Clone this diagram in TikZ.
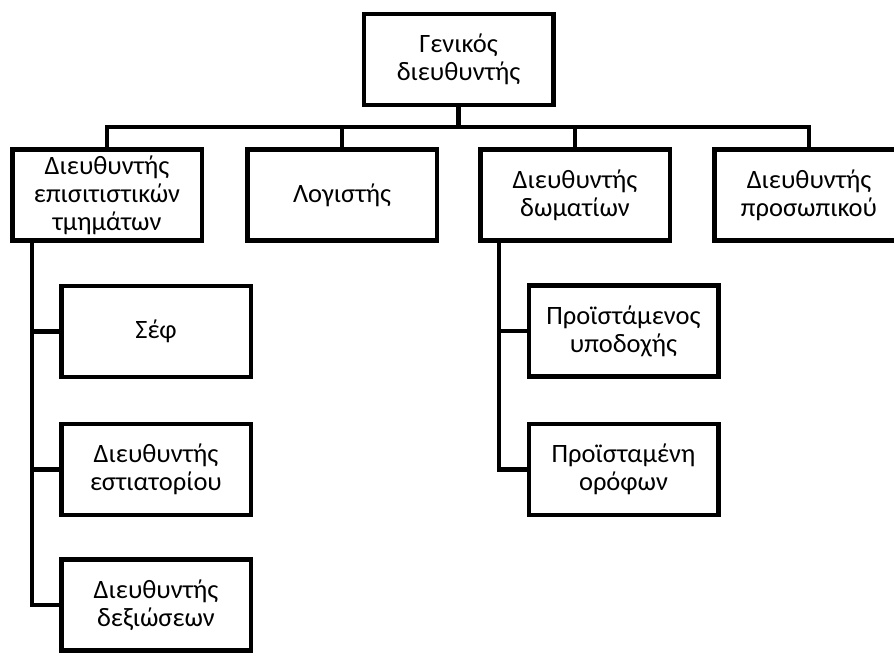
\documentclass[tikz,border=0pt]{standalone}
\usepackage{fontspec}
\setmainfont{Carlito}
\begin{document}
\begin{tikzpicture}[x=1pt,y=-1pt,
  box/.style={draw=black, line width=4.5pt, fill=white, minimum width=189.5pt, minimum height=91pt,
    align=center, inner sep=0pt, font=\fontsize{26.5}{28}\selectfont},
  conn/.style={draw=black, line width=4.5pt, line cap=rect}]
\useasboundingbox (0,0) rectangle (894,655);
\clip (0,0) rectangle (894,655);
% nodes
\node[box] (top) at (458.5,59.5) {Γενικός\\διευθυντής};
\node[box] (b1) at (107,195) {Διευθυντής\\επισιτιστικών\\τμημάτων};
\node[box] (b2) at (342,195) {Λογιστής};
\node[box] (b3) at (575,195) {Διευθυντής\\δωματίων};
\node[box] (b4) at (809,195) {Διευθυντής\\προσωπικού};
\node[box] (c1) at (156,331.5) {Σέφ};
\node[box] (c2) at (156,469.5) {Διευθυντής\\εστιατορίου};
\node[box] (c3) at (156,605) {Διευθυντής\\δεξιώσεων};
\node[box] (d1) at (623.5,331) {Προϊστάμενος\\υποδοχής};
\node[box] (d2) at (623.5,469.5) {Προϊσταμένη\\ορόφων};
% bus
\coordinate (busL) at (107,127);
\coordinate (busR) at (809,127);
\coordinate (busT) at (458.5,127);
\draw[conn] (top.south) -- (busT);
\draw[conn] (b1.north) -- (busL) -- (busR) -- (b4.north);
\draw[conn] (b2.north) -- (b2.north |- busL);
\draw[conn] (b3.north) -- (b3.north |- busL);
% left branch
\coordinate (lv) at (32,243);
\draw[conn] (lv) -- (lv |- c3.west) -- (c3.west);
\draw[conn] (lv |- c1.west) -- (c1.west);
\draw[conn] (lv |- c2.west) -- (c2.west);
% right branch
\coordinate (rv) at (499,243);
\draw[conn] (rv) -- (rv |- d2.west) -- (d2.west);
\draw[conn] (rv |- d1.west) -- (d1.west);
\end{tikzpicture}
\end{document}
